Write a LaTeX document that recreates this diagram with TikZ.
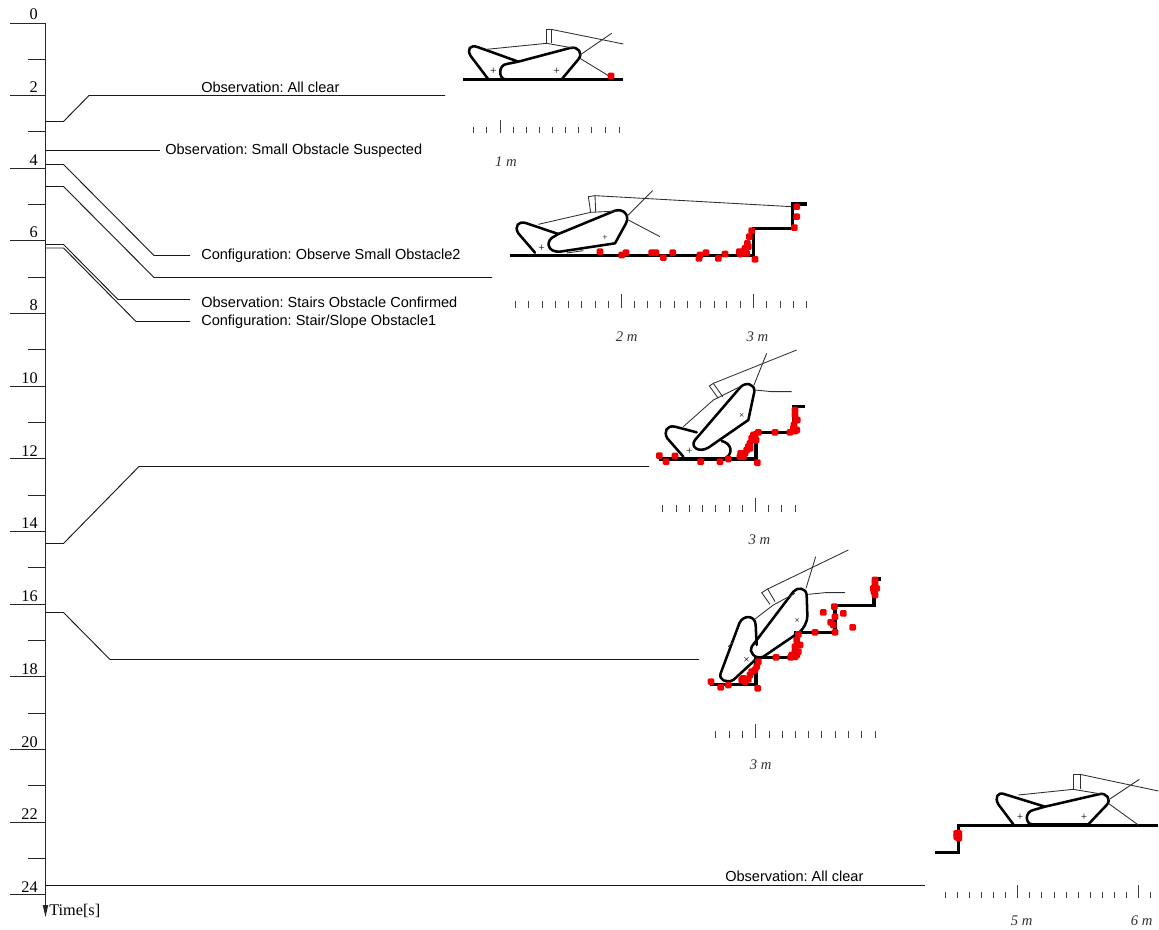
\documentclass[tikz,border=0pt]{standalone}
\usepackage{fontspec}
\setmainfont{Liberation Serif}
\setsansfont{Liberation Sans}
\usepackage{xcolor}
\usepackage{tikz}
\usetikzlibrary{arrows.meta,positioning,calc}
\definecolor{hitred}{HTML}{F00000}
\definecolor{thinline}{HTML}{303030}
\newcommand{\hitpts}[1]{\foreach \hx/\hy in {#1} \fill[hitred,rounded corners=1pt] (\hx-10,\hy-10) rectangle (\hx+10,\hy+10);}
\newcommand{\rulerpts}[4]{%
  \foreach \rx in {#1} \draw[ruler] (\rx,#3) -- (\rx,#4);
  \foreach \rx in {#2} \draw[ruler] (\rx,#3-20) -- (\rx,#4);}
\frenchspacing

\begin{document}
\begin{tikzpicture}[
  x=.75pt,y=-.75pt,
  >=Stealth,
  axis/.style={line width=.75pt,draw=black!85},
  link/.style={line width=.7pt,draw=black!90},
  ground/.style={line width=2.3pt,line join=miter},
  track/.style={line width=1.9pt,line join=round,line cap=round},
  thin/.style={line width=.65pt,draw=thinline},
  ruler/.style={line width=.6pt,draw=black!75},
  marker/.style={inner sep=0pt,font=\fontsize{8.5}{9}\selectfont},
  ticklabel/.style={font=\fontsize{12.2}{14}\selectfont,inner sep=0pt,anchor=base east},
  msg/.style={font=\fontsize{10.9}{13}\selectfont\sffamily,inner sep=0pt,anchor=base west},
  dist/.style={font=\fontsize{11}{13}\selectfont\itshape,inner sep=0pt,draw=none,text=black!80}
]
\useasboundingbox (0,0) rectangle (1159,930);

% time axis
\coordinate (axtop) at (45.5,23);
\coordinate (axend) at (45.5,917);
\draw[axis,-{Stealth[length=9pt,width=4pt,inset=0pt]}] (axtop) -- (axend);
\foreach \t in {0,2,...,24} {
  \coordinate (major\t) at (45.5,{23.5+floor(36.33*\t)});
  \draw[axis] (major\t) -- ++(-36,0);
  \node[ticklabel] (num\t) at (38,{19.5+36.38*\t}) {\t};
}
\foreach \t in {1,3,...,23} {
  \coordinate (minor\t) at (45.5,{23.5+floor(36.33*\t)});
  \draw[axis] (minor\t) -- ++(-18,0);
}
\node[inner sep=0pt,anchor=base west,font=\fontsize{12.2}{14}\selectfont] (timelabel) at (49,915) {Time[s]};

% events on the axis
\coordinate (clearstart) at (45.5,121.5);
\coordinate (suspectstart) at (45.5,150.5);
\coordinate (observestart) at (45.5,164.5);
\coordinate (seenstart) at (45.5,186.5);
\coordinate (confirmstart) at (45.5,244.5);
\coordinate (stairstart) at (45.5,248);
\coordinate (climbstart) at (45.5,543.5);
\coordinate (upperstart) at (45.5,612.5);
\coordinate (endstart) at (45.5,885);

\coordinate (clearend) at (445,95.5);
\coordinate (seenend) at (492,277.5);
\coordinate (climbend) at (649,466.5);
\coordinate (upperend) at (699,659.5);
\coordinate (endend) at (925,885);
\coordinate (observeend) at (190,255.5);
\coordinate (confirmend) at (190,299.5);
\coordinate (stairend) at (190,321.5);

\node[msg] (clearmsg) at (201,93) {Observation: All clear};
\node[msg] (suspectmsg) at (165,155) {Observation: Small Obstacle Suspected};
\node[msg] (observemsg) at (201,259.5) {Configuration: Observe Small Obstacle2};
\node[msg] (confirmmsg) at (201,307.5) {Observation: Stairs Obstacle Confirmed};
\node[msg] (stairmsg) at (201,325.5) {Configuration: Stair/Slope Obstacle1};
\node[msg] (endmsg) at (725,881.5) {Observation: All clear};

\draw[link] (clearstart) -- ++(18,0) -- (89,95.5) -- (clearend);
\draw[link] (suspectstart) -- ($(suspectmsg.base west)+(-5,-4.5)$);
\draw[link] (observestart) -- ++(18,0) -- (154,255.5) -- (observeend);
\draw[link] (seenstart) -- ++(18,0) -- (154,277.5) -- (seenend);
\draw[link] (confirmstart) -- ++(18,0) -- (118,299.5) -- (confirmend);
\draw[link] (stairstart) -- ++(18,0) -- (136,321.5) -- (stairend);
\draw[link] (climbstart) -- ++(18,0) -- (139,466.5) -- (climbend);
\draw[link] (upperstart) -- ++(18,0) -- (110,659.5) -- (upperend);
\draw[link] (endstart) -- (endend);

% first robot
\begin{scope}[shift={(450,20)},x=.25pt,y=-.25pt]
  \draw[ground] (40,179) -- (520,179);
  \draw[track] (115,178) -- (62,108) .. controls (50,88) and (60,72) .. (85,82) -- (205,125) -- (360,84) .. controls (385,78) and (400,100) .. (385,118) -- (335,178) -- (165,178) .. controls (145,175) and (145,135) .. (170,132) -- (205,125);
  \draw[thin] (110,88) -- (290,70) -- (375,85);
  \draw[thin] (290,70) -- (290,27) -- (303,27) -- (303,70);
  \draw[thin] (303,28) -- (520,72);
  \draw[thin] (390,105) -- (485,40);
  \draw[thin] (390,115) -- (480,170);
  \node[marker] (plusa) at (130,155) {+};
  \node[marker] (plusb) at (320,155) {+};
  \hitpts{483/168}
  \rulerpts{70,110,190,228,268,307,347,386,425,465,507}{150}{320}{340}
  \node[dist] (metre1) at (168,425) {1 m};
\end{scope}

% second robot
\begin{scope}[shift={(500,180)},x=.25pt,y=-.25pt]
  \draw[ground] (30,227) -- (760,227) -- (760,145) -- (877,145) -- (877,72) -- (922,72);
  \draw[track] (105,218) -- (55,160) .. controls (42,140) and (55,120) .. (80,130) -- (175,162);
  \draw[track] (175,162) -- (345,92) .. controls (370,85) and (390,105) .. (378,130) -- (345,190) -- (180,215) .. controls (140,218) and (135,180) .. (165,168) -- (175,162);
  \draw[thin] (200,219) -- (250,212);
  \draw[thin] (115,133) -- (272,97) -- (355,93);
  \draw[thin] (272,97) -- (265,50) -- (285,47) -- (287,95);
  \draw[thin] (285,47) -- (875,80);
  \draw[thin] (380,110) -- (458,32);
  \draw[thin] (385,120) -- (480,170);
  \node[marker] (plusc) at (125,205) {+};
  \node[marker,font=\fontsize{7}{8}\selectfont] (plusd) at (315,173) {+};
  \hitpts{300/215,365/225,378/218,455/218,468/218,490/233,518/218,597/235,600/225,618/218,655/235,675/222,718/215,725/220,735/205,742/190,748/170,755/152,740/220,720/222,730/215,745/200,765/238,883/143,890/110,890/80}
  \rulerpts{47,86,126,166,205,245,285,325,402,442,482,522,562,602,642,680,722,800,840,880,920}{365,760}{362}{385}
  \node[dist] (metre2) at (380,470) {2 m};
  \node[dist] (metre3) at (772,470) {3 m};
\end{scope}

% third robot
\begin{scope}[shift={(650,345)},x=.25pt,y=-.25pt]
  \draw[ground] (28,342) -- (318,342) -- (318,262) -- (432,262) -- (432,185) -- (465,185);
  \draw[track] (100,335) -- (52,280) .. controls (40,260) and (50,240) .. (75,245) -- (140,262);
  \draw[track] (215,288) .. controls (245,295) and (250,325) .. (228,338);
  \draw[track] (135,285) -- (270,128) .. controls (285,110) and (315,115) .. (313,140) -- (295,225) -- (175,308) .. controls (145,325) and (120,305) .. (135,285);
  \draw[thin] (100,245) -- (190,165) -- (270,125);
  \draw[thin] (205,160) -- (178,123) -- (190,115) -- (218,155);
  \draw[thin] (190,115) -- (440,15);
  \draw[thin] (312,120) -- (350,25);
  \draw[thin] (315,135) -- (365,140) -- (425,140);
  \node[marker] (pluse) at (118,318) {+};
  \node[marker,font=\fontsize{7}{8}\selectfont] (plusf) at (275,213) {×};
  \hitpts{28/332,48/350,75/333,152/350,210/350,235/342,272/325,280/335,270/335,290/315,300/295,295/305,285/325,300/310,310/270,305/280,318/285,325/262,315/270,375/262,420/262,435/258,430/250,440/255,432/240,437/225,442/225,435/210,435/195,322/353}
  \rulerpts{38,78,118,158,197,237,277,355,395,435}{316}{480}{500}
  \node[dist] (metre4) at (328,583) {3 m};
\end{scope}

% fourth robot
\begin{scope}[shift={(700,545)},x=.25pt,y=-.25pt]
  \draw[ground] (30,418) -- (168,418) -- (168,338) -- (288,338) -- (288,262) -- (405,262) -- (405,182) -- (522,182) -- (522,102) -- (542,102);
  \draw[track] (165,345) -- (100,405) .. controls (80,415) and (55,405) .. (62,385) -- (118,235) .. controls (128,210) and (165,208) .. (167,240) -- (170,300);
  \draw[track] (155,305) -- (280,140) .. controls (292,125) and (318,128) .. (320,150) -- (322,210) .. controls (322,235) and (310,250) .. (300,260) -- (190,335) .. controls (165,345) and (145,320) .. (155,305);
  \draw[thin] (165,222) -- (220,180) -- (285,145);
  \draw[thin] (210,178) -- (185,143) -- (203,132) -- (225,170);
  \draw[thin] (203,132) -- (445,15);
  \draw[thin] (318,130) -- (347,35);
  \draw[thin] (325,148) -- (375,143) -- (435,143);
  \draw[thin] (85,305) -- (100,290);
  \node[marker] (plusg) at (140,345) {×};
  \node[marker,font=\fontsize{7}{8}\selectfont] (plush) at (292,228) {×};
  \hitpts{33/410,62/427,85/420,125/405,135/410,130/400,150/390,145/403,165/375,155/380,175/350,170/365,173/430,228/337,272/337,285/335,275/330,295/320,285/320,300/300,290/285,295/268,285/305,290/330,345/262,405/262,400/240,392/232,405/215,403/185,370/202,430/205,458/247,525/105,520/130,530/130,525/115,525/150,522/140}
  \rulerpts{47,88,128,207,247,287,325,365,405,445,485,525}{167}{557}{578}
  \node[dist] (metre5) at (182,660) {3 m};
\end{scope}

% fifth robot
\begin{scope}[shift={(925,765)},x=.25pt,y=-.25pt]
  \draw[ground] (30,262) -- (100,262) -- (100,182) -- (700,182);
  \draw[track] (265,178) -- (220,118) .. controls (208,98) and (218,78) .. (240,88) -- (360,125) -- (520,88) .. controls (545,80) and (560,105) .. (545,120) -- (490,178) -- (320,178) .. controls (300,175) and (300,140) .. (325,135) -- (360,125);
  \draw[thin] (280,90) -- (445,73) -- (535,88);
  \draw[thin] (445,73) -- (445,28) -- (465,28) -- (465,73);
  \draw[thin] (465,28) -- (700,78);
  \draw[thin] (550,105) -- (643,43);
  \draw[thin] (550,115) -- (640,180);
  \node[marker] (plusi) at (285,158) {+};
  \node[marker] (plusj) at (477,158) {+};
  \hitpts{101/205,101/212,101/220,95/205,95/215}
  \rulerpts{61,97,133,169,206,242,314,350,387,423,459,495,531,567,604,676}{278,640}{380}{398}
  \node[dist] (metre6) at (290,468) {5 m};
  \node[dist] (metre7) at (650,468) {6 m};
\end{scope}
\end{tikzpicture}
\end{document}
